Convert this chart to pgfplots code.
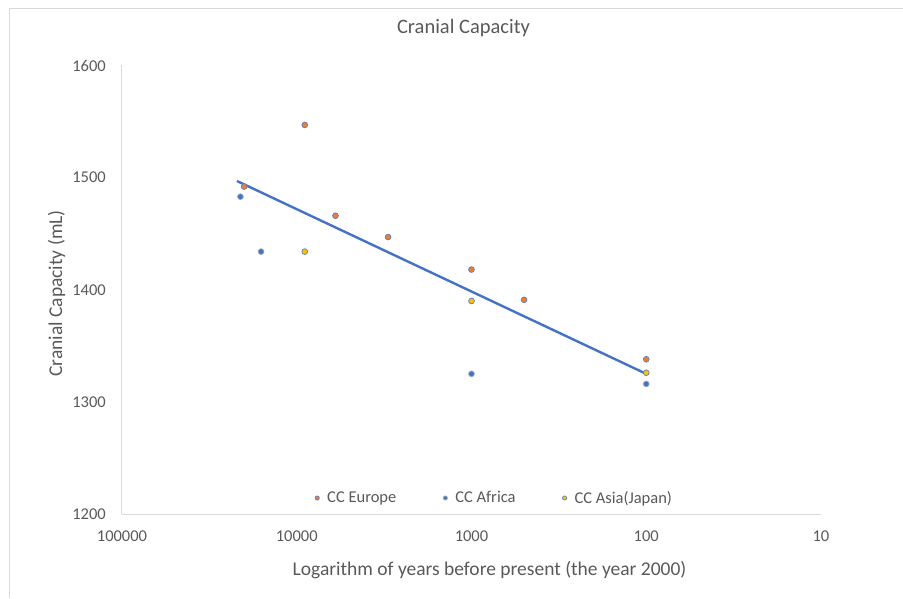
\documentclass[border=0pt]{standalone}
\usepackage{fontspec}
\setmainfont{Carlito}
\usepackage{pgfplots}
\pgfplotsset{compat=1.18}
\definecolor{txt}{HTML}{595959}
\definecolor{gridc}{HTML}{D9D9D9}
\definecolor{cEur}{HTML}{ED7D31}
\definecolor{cAfr}{HTML}{4472C4}
\definecolor{cAsi}{HTML}{FFC000}
\definecolor{ringB}{HTML}{5B7FC4}
\definecolor{ringG}{HTML}{9AA6B8}
\begin{document}
\begin{tikzpicture}
\path[use as bounding box] (-122pt,-84pt) rectangle (781pt,514pt);
\draw[gridc, line width=1pt] (-112pt,-84pt) -- (-112pt,505pt) -- (781pt,505pt);
\begin{axis}[
  scale only axis,
  width=699pt, height=448.5pt,
  clip=false,
  xmode=log, log basis x=10, x dir=reverse,
  xmin=10, xmax=100000,
  ymin=1200, ymax=1600,
  xtick={10,100,1000,10000,100000},
  xticklabels={10,100,1000,10000,100000},
  ytick={1200,1300,1400,1500,1600},
  axis x line*=bottom, axis y line*=left,
  axis line style={draw=gridc, line width=1pt, -},
  every outer x axis line/.append style={-},
  every outer y axis line/.append style={-},
  major tick length=0pt, minor tick length=0pt,
  tick style={draw=none},
  xminorticks=false,
  /pgf/number format/assume math mode=true,
  /pgf/number format/1000 sep={},
  xticklabel style={anchor=base, inner sep=0pt, yshift=-27.5pt, font=\fontsize{16.5}{19}\selectfont, text=txt},
  yticklabel style={anchor=east, inner sep=0pt, xshift=-16pt, font=\fontsize{16.5}{19}\selectfont, text=txt},
  title={Cranial Capacity},
  title style={at={(axis description cs:0.4886,1.0584)}, anchor=base, inner sep=0pt, font=\fontsize{20.5}{24}\selectfont, text=txt},
  xlabel={Logarithm of years before present (the year 2000)},
  xlabel style={at={(axis description cs:0.5258,-0.1376)}, anchor=base, inner sep=0pt, font=\fontsize{19.5}{23}\selectfont, text=txt},
  ylabel={Cranial Capacity (mL)},
  ylabel style={at={(axis description cs:-0.0858,0.4917)}, anchor=base, rotate=0, inner sep=0pt, font=\fontsize{19.5}{23}\selectfont, text=txt},
  legend columns=3,
  legend style={draw=none, fill=none, inner sep=0pt, at={(axis description cs:0.2733,0.0357)}, anchor=west,
    font=\fontsize{16.5}{19}\selectfont, text=txt,
    /tikz/every even column/.append style={column sep=43pt}},
  legend image code/.code={\path[draw=none, fill=none] (-4pt,-1pt) rectangle (8pt,1pt); \draw[mark repeat=2, mark phase=2, #1, mark size=2.1pt] plot coordinates {(-4pt,0pt) (0pt,0pt) (8pt,0pt)};},
]
\addplot[only marks, mark=*, mark size=2.9pt, mark options={fill=cEur, draw=ringB, line width=0.7pt}]
  coordinates {(20000,1492) (9000,1547) (6000,1466) (3000,1447) (1000,1418) (500,1391) (100,1338)};
\addlegendentry{CC Europe}
\addplot[only marks, mark=*, mark size=2.9pt, mark options={fill=cAfr, draw=ringG, line width=0.7pt}]
  coordinates {(21000,1483) (16000,1434) (1000,1325) (100,1316)};
\addlegendentry{CC Africa}
\addplot[only marks, mark=*, mark size=2.9pt, mark options={fill=cAsi, draw=ringB, line width=0.7pt}]
  coordinates {(9000,1434) (1000,1390) (100,1326)};
\addlegendentry{CC Asia(Japan)}
\addplot[cAfr, line width=2.4pt, no marks, forget plot]
  coordinates {(22000,1497) (100,1325)};
\end{axis}
\end{tikzpicture}
\end{document}
